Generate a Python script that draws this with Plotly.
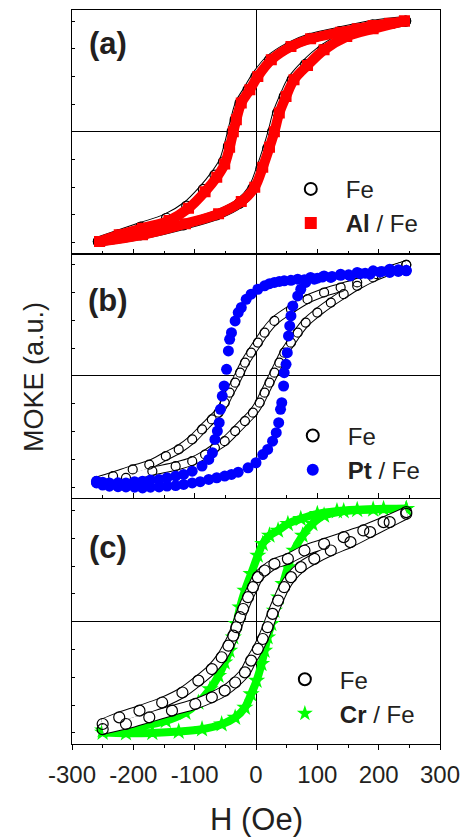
import plotly.graph_objects as go

# ---------------- data ----------------
# Panel (a): Fe and Al/Fe
H_FE_A_DOWN = [244, 190, 136, 88, 55, 22, 0, -13, -26, -34, -39, -45, -53, -67, -86, -113, -146, -188, -225, -257]
M_FE_A_DOWN = [1.0, 0.965, 0.905, 0.845, 0.77, 0.65, 0.50, 0.38, 0.26, 0.11, 0.0, -0.13, -0.27, -0.39, -0.52, -0.67, -0.78, -0.86, -0.93, -0.99]
H_FE_A_UP = [-257, -188, -118, -64, -27, -5, 8, 19, 27, 35, 46, 59, 81, 109, 147, 190, 244]
M_FE_A_UP = [-0.99, -0.93, -0.84, -0.75, -0.645, -0.51, -0.33, -0.15, 0.0, 0.17, 0.32, 0.47, 0.61, 0.745, 0.865, 0.94, 1.0]

H_AL_DOWN = [242, 218, 191, 165, 138, 89, 57, 25, 3, -10, -24, -32, -37, -43, -51, -64, -83, -110, -142, -185, -223, -255]
M_AL_DOWN = [1.00, 0.98, 0.96, 0.93, 0.90, 0.84, 0.77, 0.65, 0.50, 0.38, 0.26, 0.11, 0.00, -0.14, -0.29, -0.41, -0.54, -0.69, -0.80, -0.87, -0.93, -0.99]
H_AL_UP = [-255, -185, -115, -61, -24, -2, 11, 22, 30, 38, 49, 62, 84, 111, 148, 191, 242]
M_AL_UP = [-0.99, -0.93, -0.83, -0.74, -0.63, -0.50, -0.32, -0.14, 0.00, 0.17, 0.32, 0.47, 0.60, 0.74, 0.86, 0.93, 1.00]

# Panel (b): Fe and Pt/Fe
H_FE_B_DOWN = [245, 197, 165, 138, 111, 84, 57, 30, 14, 3, -8, -18, -26, -34, -43, -51, -61, -72, -88, -104, -126, -147, -174, -201, -233, -260]
M_FE_B_DOWN = [1.0, 0.916, 0.841, 0.796, 0.751, 0.691, 0.60, 0.495, 0.39, 0.30, 0.21, 0.12, 0.03, -0.06, -0.15, -0.24, -0.33, -0.39, -0.48, -0.57, -0.66, -0.72, -0.796, -0.84, -0.90, -0.946]
H_FE_B_UP = [-260, -212, -169, -131, -104, -83, -67, -51, -34, -18, -5, 6, 14, 22, 30, 38, 46, 57, 68, 81, 100, 122, 143, 165, 191, 218, 245]
M_FE_B_UP = [-0.961, -0.916, -0.856, -0.811, -0.766, -0.706, -0.646, -0.586, -0.495, -0.405, -0.33, -0.24, -0.15, -0.06, 0.03, 0.12, 0.21, 0.30, 0.39, 0.48, 0.57, 0.66, 0.736, 0.811, 0.886, 0.946, 1.0]

H_PT_DOWN = [245, 232, 218, 205, 191, 178, 165, 151, 138, 124, 111, 100, 89, 79, 68, 57, 46, 38, 30, 22, 14, 3, -8, -16, -24, -29, -34, -40, -43, -45, -48, -52, -55, -58, -60, -63, -67, -71, -77, -88, -104, -118, -131, -145, -158, -172, -185, -198, -212, -225, -239, -250, -260]
M_PT_DOWN = [0.95, 0.955, 0.96, 0.94, 0.946, 0.925, 0.931, 0.91, 0.916, 0.895, 0.90, 0.88, 0.886, 0.865, 0.871, 0.86, 0.856, 0.85, 0.841, 0.83, 0.811, 0.78, 0.736, 0.69, 0.616, 0.57, 0.495, 0.39, 0.33, 0.225, 0.06, -0.09, -0.18, -0.30, -0.42, -0.495, -0.57, -0.69, -0.75, -0.81, -0.856, -0.885, -0.90, -0.915, -0.93, -0.935, -0.946, -0.95, -0.961, -0.96, -0.961, -0.955, -0.946]
H_PT_UP = [-260, -250, -239, -225, -212, -198, -185, -172, -158, -145, -131, -118, -104, -91, -77, -64, -51, -40, -29, -13, 0, 11, 19, 27, 33, 37, 40, 42, 45, 46, 49, 51, 53, 55, 57, 60, 68, 73, 81, 95, 108, 122, 138, 154, 170, 186, 202, 218, 232, 245]
M_PT_UP = [-0.961, -0.98, -0.991, -0.995, -0.997, -1.0, -1.006, -1.0, -0.997, -0.99, -0.985, -0.975, -0.961, -0.95, -0.93, -0.915, -0.90, -0.885, -0.865, -0.826, -0.78, -0.706, -0.66, -0.586, -0.51, -0.42, -0.30, -0.24, -0.09, 0.03, 0.105, 0.21, 0.36, 0.45, 0.54, 0.63, 0.72, 0.78, 0.841, 0.871, 0.89, 0.886, 0.905, 0.90, 0.92, 0.916, 0.935, 0.931, 0.94, 0.946]

# Panel (c): Fe and Cr/Fe
H_FE_C_DOWN = [245, 208, 175, 143, 111, 79, 52, 30, 14, 3, -5, -13, -21, -26, -32, -37, -45, -56, -72, -94, -120, -153, -190, -223, -250]
M_FE_C_DOWN = [0.985, 0.895, 0.82, 0.76, 0.70, 0.64, 0.565, 0.52, 0.46, 0.40, 0.31, 0.22, 0.114, 0.04, -0.05, -0.126, -0.216, -0.32, -0.426, -0.53, -0.637, -0.727, -0.80, -0.86, -0.92]
H_FE_C_UP = [-250, -212, -174, -137, -99, -72, -51, -34, -18, -8, 3, 11, 19, 27, 36, 46, 57, 73, 95, 122, 154, 186, 218, 245]
M_FE_C_UP = [-0.967, -0.92, -0.86, -0.80, -0.74, -0.68, -0.62, -0.547, -0.456, -0.35, -0.246, -0.156, -0.05, 0.07, 0.19, 0.31, 0.40, 0.49, 0.565, 0.64, 0.715, 0.805, 0.895, 0.97]

H_CR_DOWN = [245, 208, 165, 132, 100, 73, 52, 36, 22, 11, 3, -8, -18, -26, -32, -37, -43, -51, -61, -75, -94, -115, -147, -185, -223, -250]
M_CR_DOWN = [1.015, 1.015, 1.006, 0.994, 0.97, 0.925, 0.88, 0.82, 0.775, 0.70, 0.595, 0.43, 0.28, 0.13, -0.02, -0.14, -0.26, -0.366, -0.486, -0.607, -0.727, -0.817, -0.892, -0.937, -0.961, -0.976]
H_CR_UP = [-250, -212, -169, -126, -88, -56, -34, -18, -8, 1, 9, 14, 19, 25, 30, 37, 44, 52, 62, 76, 92, 111, 143, 191, 245]
M_CR_UP = [-0.997, -1.003, -1.0, -0.988, -0.967, -0.922, -0.862, -0.772, -0.652, -0.53, -0.38, -0.26, -0.14, -0.02, 0.10, 0.22, 0.34, 0.49, 0.64, 0.775, 0.88, 0.955, 0.994, 1.009, 1.015]

X_TICKS = [-300, -200, -100, 0, 100, 200, 300]
X_TICK_TEXT = ["-300", "-200", "-100", "0", "100", "200", "300"]

# ---------------- styling ----------------
FONT = "Liberation Sans, Arial, sans-serif"
TXT = "#231f20"
RED = "#ff0000"
BLUE = "#0000ff"
GREEN = "#00ff00"

fig = go.Figure()


def branch_pair(h1, m1, h2, m2):
    return h1 + [None] + h2, m1 + [None] + m2


def add_fe(h, m, xa, ya, size, legend, tube):
    fig.add_trace(go.Scatter(x=h, y=m, xaxis=xa, yaxis=ya, mode="lines",
                             line=dict(color="black", width=tube + 2, shape="spline"),
                             showlegend=False, hoverinfo="skip"))
    fig.add_trace(go.Scatter(x=h, y=m, xaxis=xa, yaxis=ya, mode="lines",
                             line=dict(color="white", width=tube, shape="spline"),
                             showlegend=False, hoverinfo="skip"))
    fig.add_trace(go.Scatter(x=h, y=m, xaxis=xa, yaxis=ya, mode="markers", name="Fe",
                             marker=dict(symbol="circle-open", size=size, color="black",
                                         line=dict(width=1.2, color="black")),
                             legend=legend, legendrank=1, showlegend=True))


def add_series(h, m, xa, ya, color, symbol, size, name, legend, band):
    if band:
        fig.add_trace(go.Scatter(x=h, y=m, xaxis=xa, yaxis=ya, mode="lines",
                                 line=dict(color=color, width=band, shape="spline"),
                                 showlegend=False, hoverinfo="skip"))
    fig.add_trace(go.Scatter(x=h, y=m, xaxis=xa, yaxis=ya, mode="markers", name=name,
                             marker=dict(symbol=symbol, size=size, color=color,
                                         line=dict(width=0)),
                             legend=legend, legendrank=2, showlegend=True))


# panel (a) -> x3/y3 (top)
h, m = branch_pair(H_FE_A_DOWN, M_FE_A_DOWN, H_FE_A_UP, M_FE_A_UP)
add_fe(h, m, "x3", "y3", 10, "legend", 8)
h, m = branch_pair(H_AL_DOWN, M_AL_DOWN, H_AL_UP, M_AL_UP)
add_series(h, m, "x3", "y3", RED, "square", 11, "<b>Al</b> / Fe", "legend", 10)

# panel (b) -> x2/y2 (middle)
h, m = branch_pair(H_FE_B_DOWN, M_FE_B_DOWN, H_FE_B_UP, M_FE_B_UP)
add_fe(h, m, "x2", "y2", 9, "legend2", 7)
h, m = branch_pair(H_PT_DOWN, M_PT_DOWN, H_PT_UP, M_PT_UP)
add_series(h, m, "x2", "y2", BLUE, "circle", 11, "<b>Pt</b> / Fe", "legend2", 0)

# panel (c) -> x/y (bottom)
h, m = branch_pair(H_CR_DOWN, M_CR_DOWN, H_CR_UP, M_CR_UP)
add_series(h, m, "x", "y", GREEN, "star", 13, "<b>Cr</b> / Fe", "legend3", 8)
h, m = branch_pair(H_FE_C_DOWN, M_FE_C_DOWN, H_FE_C_UP, M_FE_C_UP)
add_fe(h, m, "x", "y", 11, "legend3", 9)

W, Hgt = 469, 840
L, R, T, B = 72, 25, 9, 96
plot_h = Hgt - T - B


def py(pix):
    return (Hgt - B - pix) / plot_h


def px(pix):
    return (pix - L) / (W - L - R)


doms = {"c": [0, py(499)], "b": [py(498), py(253)], "a": [py(253), 1]}

common_y = dict(range=[-1.1, 1.1], tick0=0, dtick=0.25, ticks="inside", ticklen=3,
                tickcolor="black", showticklabels=False, showline=True, linecolor="black",
                linewidth=1, mirror=True, zeroline=True, zerolinecolor="black",
                zerolinewidth=1, showgrid=False, fixedrange=True)


def xaxis(anchor, inside, labels):
    return dict(range=[-300, 300], tickvals=X_TICKS, ticktext=X_TICK_TEXT,
                ticks="inside" if inside else "outside", ticklen=5, tickcolor="black",
                minor=dict(dtick=50, tick0=0, ticks="inside" if inside else "outside",
                           ticklen=3, tickcolor="black"),
                showticklabels=labels, showline=True, linecolor="black", linewidth=1,
                mirror=True, zeroline=True, zerolinecolor="black", zerolinewidth=1,
                showgrid=False, anchor=anchor, fixedrange=True, ticklabelstandoff=4,
                tickfont=dict(family=FONT, size=24, color=TXT))


legend_common = dict(font=dict(family=FONT, size=24, color=TXT), bgcolor="rgba(0,0,0,0)",
                     borderwidth=0, xanchor="left", yanchor="top", itemwidth=60,
                     itemsizing="constant", traceorder="normal", tracegroupgap=0)

fig.update_layout(
    width=W, height=Hgt,
    margin=dict(l=L, r=R, t=T, b=B),
    plot_bgcolor="white", paper_bgcolor="white",
    font=dict(family=FONT, color=TXT),
    xaxis=xaxis("y", False, True),
    yaxis=dict(domain=doms["c"], anchor="x", **common_y),
    xaxis2=xaxis("y2", True, False),
    yaxis2=dict(domain=doms["b"], anchor="x2", **common_y),
    xaxis3=xaxis("y3", True, False),
    yaxis3=dict(domain=doms["a"], anchor="x3", **common_y),
    legend=dict(x=px(278), y=py(166), **legend_common),
    legend2=dict(x=px(280), y=py(413), **legend_common),
    legend3=dict(x=px(272), y=py(657), **legend_common),
    showlegend=True,
)

for lab, yy in (("(a)", 43), ("(b)", 300), ("(c)", 547)):
    fig.add_annotation(text="<b>%s</b>" % lab, xref="paper", yref="paper",
                       x=px(108), y=py(yy), xanchor="center", yanchor="middle",
                       showarrow=False, font=dict(family=FONT, size=31, color=TXT))

fig.add_annotation(text="MOKE (a.u.)", xref="paper", yref="paper", x=px(33), y=py(376),
                   xanchor="center", yanchor="middle", textangle=-90, showarrow=False,
                   font=dict(family=FONT, size=27, color=TXT))
fig.add_annotation(text="H (Oe)", xref="paper", yref="paper", x=px(258), y=py(820),
                   xanchor="center", yanchor="middle", showarrow=False,
                   font=dict(family=FONT, size=31, color=TXT))

fig.write_html("out.html", config={"displayModeBar": False},
               post_script="document.body.style.margin='0';")
